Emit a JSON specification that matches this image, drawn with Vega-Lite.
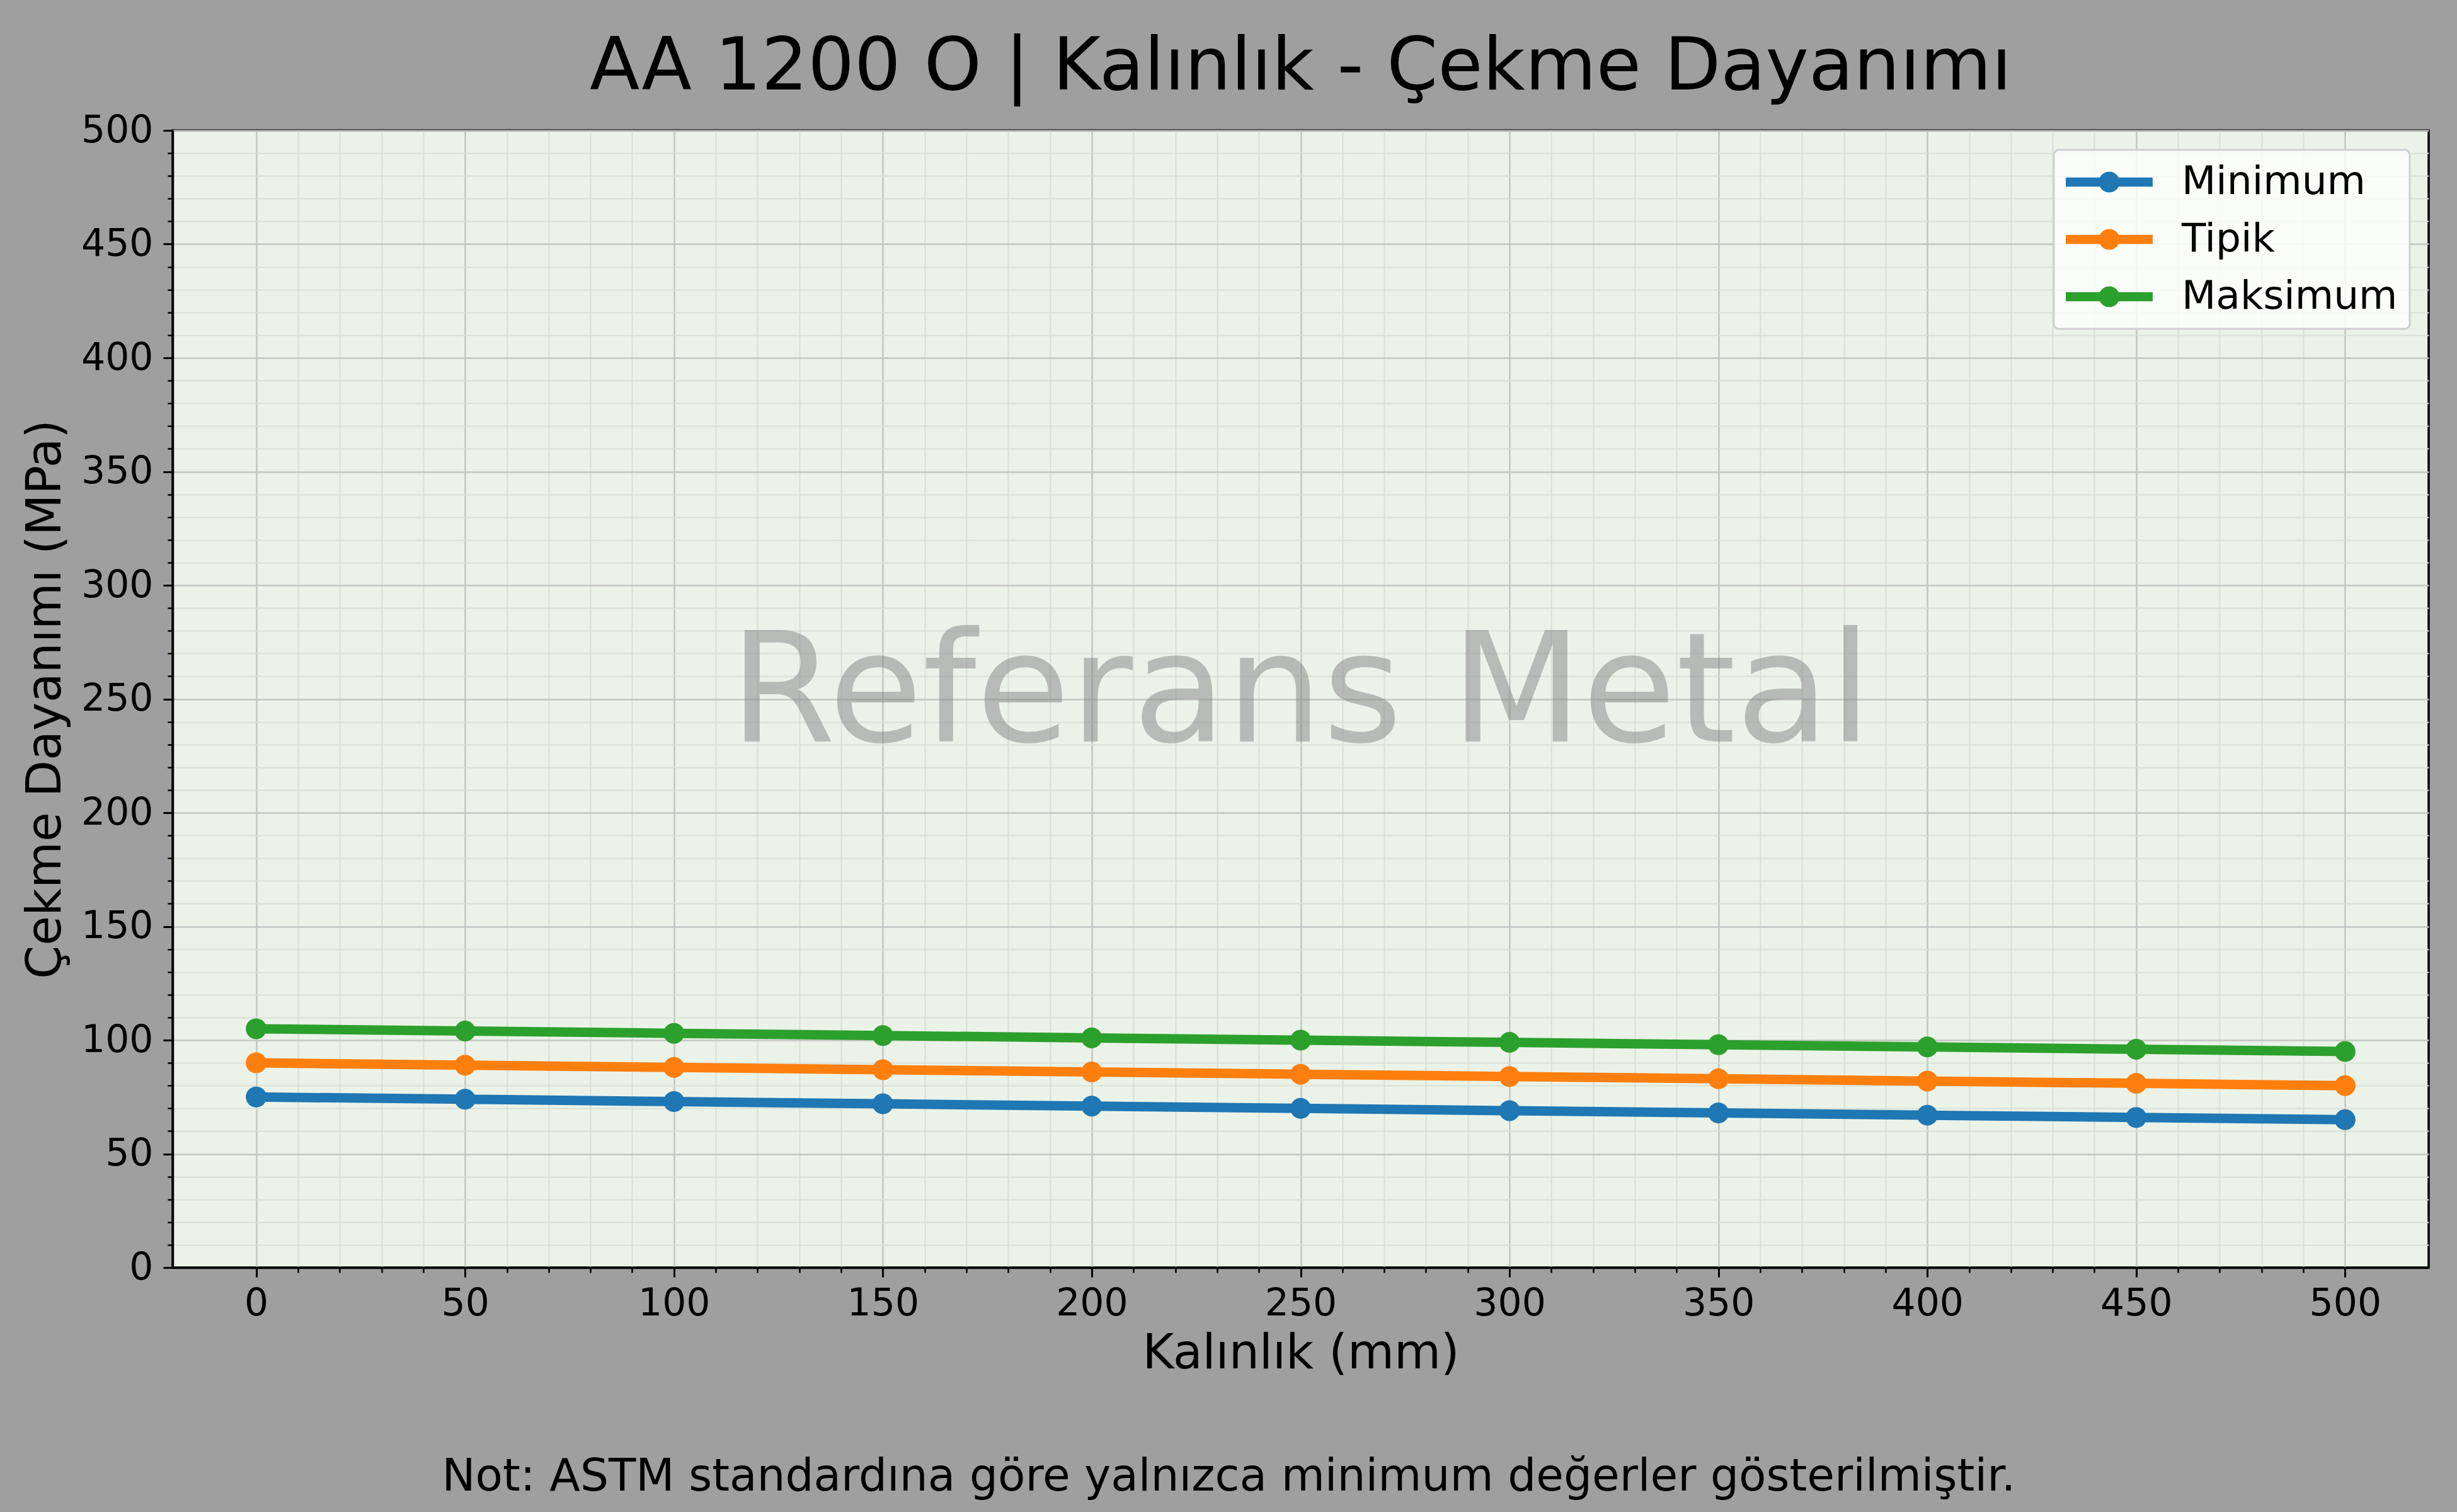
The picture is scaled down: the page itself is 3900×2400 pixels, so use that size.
{
  "$schema": "https://vega.github.io/schema/vega-lite/v6.json",
  "width": 3581,
  "height": 1805,
  "autosize": {"type": "none"},
  "padding": {"left": 274, "top": 207, "right": 45, "bottom": 388},
  "background": "#9f9f9f",
  "title": {
    "text": "AA 1200 O | Kalınlık - Çekme Dayanımı",
    "font": "DejaVu Sans",
    "fontSize": 116,
    "fontWeight": "normal",
    "color": "#000000",
    "anchor": "middle",
    "baseline": "alphabetic",
    "offset": -81
  },
  "config": {
    "font": "DejaVu Sans",
    "view": {"fill": "#ebf3e8", "stroke": "#000000", "strokeWidth": 3.5},
    "axis": {
      "labelFont": "DejaVu Sans",
      "labelFontSize": 60,
      "labelColor": "#000000",
      "titleFont": "DejaVu Sans",
      "titleFontSize": 76,
      "titleFontWeight": "normal",
      "titleColor": "#000000",
      "domainColor": "#000000",
      "domainWidth": 3.5,
      "tickColor": "#000000",
      "tickWidth": 3,
      "tickSize": 15,
      "gridColor": "#c3c6c1",
      "gridWidth": 2.5
    }
  },
  "datasets": {
    "seriler": [
      {"kalinlik": 0, "seri": "Minimum", "deger": 75},
      {"kalinlik": 50, "seri": "Minimum", "deger": 74},
      {"kalinlik": 100, "seri": "Minimum", "deger": 73},
      {"kalinlik": 150, "seri": "Minimum", "deger": 72},
      {"kalinlik": 200, "seri": "Minimum", "deger": 71},
      {"kalinlik": 250, "seri": "Minimum", "deger": 70},
      {"kalinlik": 300, "seri": "Minimum", "deger": 69},
      {"kalinlik": 350, "seri": "Minimum", "deger": 68},
      {"kalinlik": 400, "seri": "Minimum", "deger": 67},
      {"kalinlik": 450, "seri": "Minimum", "deger": 66},
      {"kalinlik": 500, "seri": "Minimum", "deger": 65},
      {"kalinlik": 0, "seri": "Tipik", "deger": 90},
      {"kalinlik": 50, "seri": "Tipik", "deger": 89},
      {"kalinlik": 100, "seri": "Tipik", "deger": 88},
      {"kalinlik": 150, "seri": "Tipik", "deger": 87},
      {"kalinlik": 200, "seri": "Tipik", "deger": 86},
      {"kalinlik": 250, "seri": "Tipik", "deger": 85},
      {"kalinlik": 300, "seri": "Tipik", "deger": 84},
      {"kalinlik": 350, "seri": "Tipik", "deger": 83},
      {"kalinlik": 400, "seri": "Tipik", "deger": 82},
      {"kalinlik": 450, "seri": "Tipik", "deger": 81},
      {"kalinlik": 500, "seri": "Tipik", "deger": 80},
      {"kalinlik": 0, "seri": "Maksimum", "deger": 105},
      {"kalinlik": 50, "seri": "Maksimum", "deger": 104},
      {"kalinlik": 100, "seri": "Maksimum", "deger": 103},
      {"kalinlik": 150, "seri": "Maksimum", "deger": 102},
      {"kalinlik": 200, "seri": "Maksimum", "deger": 101},
      {"kalinlik": 250, "seri": "Maksimum", "deger": 100},
      {"kalinlik": 300, "seri": "Maksimum", "deger": 99},
      {"kalinlik": 350, "seri": "Maksimum", "deger": 98},
      {"kalinlik": 400, "seri": "Maksimum", "deger": 97},
      {"kalinlik": 450, "seri": "Maksimum", "deger": 96},
      {"kalinlik": 500, "seri": "Maksimum", "deger": 95}
    ]
  },
  "layer": [
    {
      "data": {"name": "seriler"},
      "mark": {"type": "point", "opacity": 0},
      "encoding": {
        "x": {
          "field": "kalinlik",
          "type": "quantitative",
          "scale": {"domain": [-20, 520], "nice": false, "zero": false},
          "axis": {
            "orient": "bottom",
            "values": [10, 20, 30, 40, 60, 70, 80, 90, 110, 120, 130, 140, 160, 170, 180, 190, 210, 220, 230, 240, 260, 270, 280, 290, 310, 320, 330, 340, 360, 370, 380, 390, 410, 420, 430, 440, 460, 470, 480, 490],
            "labels": false,
            "domain": false,
            "tickSize": 8,
            "tickWidth": 2.5,
            "grid": true,
            "gridColor": "#d9e0d6",
            "gridWidth": 2,
            "title": null
          }
        },
        "y": {
          "field": "deger",
          "type": "quantitative",
          "scale": {"domain": [0, 500], "nice": false, "zero": false},
          "axis": {
            "orient": "left",
            "values": [10, 20, 30, 40, 60, 70, 80, 90, 110, 120, 130, 140, 160, 170, 180, 190, 210, 220, 230, 240, 260, 270, 280, 290, 310, 320, 330, 340, 360, 370, 380, 390, 410, 420, 430, 440, 460, 470, 480, 490],
            "labels": false,
            "domain": false,
            "tickSize": 8,
            "tickWidth": 2.5,
            "grid": true,
            "gridColor": "#d9e0d6",
            "gridWidth": 2,
            "title": null
          }
        }
      }
    },
    {
      "data": {"name": "seriler"},
      "mark": {"type": "line", "strokeWidth": 15},
      "encoding": {
        "x": {
          "field": "kalinlik",
          "type": "quantitative",
          "scale": {"domain": [-20, 520], "nice": false, "zero": false},
          "axis": {
            "orient": "bottom",
            "values": [0, 50, 100, 150, 200, 250, 300, 350, 400, 450, 500],
            "grid": true,
            "labelPadding": 13,
            "titlePadding": 12,
            "title": "Kalınlık (mm)"
          }
        },
        "y": {
          "field": "deger",
          "type": "quantitative",
          "scale": {"domain": [0, 500], "nice": false, "zero": false},
          "axis": {
            "orient": "left",
            "values": [0, 50, 100, 150, 200, 250, 300, 350, 400, 450, 500],
            "grid": true,
            "labelPadding": 16,
            "titlePadding": 17,
            "title": "Çekme Dayanımı (MPa)"
          }
        },
        "color": {
          "field": "seri",
          "type": "nominal",
          "scale": {"domain": ["Minimum", "Tipik", "Maksimum"], "range": ["#1f77b4", "#ff7f0e", "#2ca02c"]},
          "legend": {
            "title": null,
            "orient": "none",
            "legendX": 2986,
            "legendY": 31,
            "padding": 19,
            "fillColor": "rgba(255,255,255,0.8)",
            "strokeColor": "#cfcfcf",
            "cornerRadius": 8,
            "symbolType": "M-1,-0.23H3.31V0.23H-1ZM0.64,0A0.516,0.516 0 1,1 1.672,0A0.516,0.516 0 1,1 0.64,0Z",
            "symbolSize": 4096,
            "symbolStrokeWidth": 0,
            "labelFont": "DejaVu Sans",
            "labelFontSize": 63,
            "labelColor": "#000000",
            "labelOffset": 120,
            "labelLimit": 2000,
            "rowPadding": 27,
            "encode": {
              "legend": {"update": {"strokeWidth": {"value": 3}}},
              "symbols": {
                "update": {
                  "fill": {"scale": "color", "field": "value"},
                  "stroke": {"value": "transparent"},
                  "strokeWidth": {"value": 0},
                  "opacity": {"value": 1}
                }
              }
            }
          }
        }
      }
    },
    {
      "data": {"name": "seriler"},
      "mark": {"type": "point", "filled": true, "size": 1089, "opacity": 1},
      "encoding": {
        "x": {
          "field": "kalinlik",
          "type": "quantitative",
          "scale": {"domain": [-20, 520], "nice": false, "zero": false},
          "axis": null
        },
        "y": {
          "field": "deger",
          "type": "quantitative",
          "scale": {"domain": [0, 500], "nice": false, "zero": false},
          "axis": null
        },
        "color": {
          "field": "seri",
          "type": "nominal",
          "scale": {"domain": ["Minimum", "Tipik", "Maksimum"], "range": ["#1f77b4", "#ff7f0e", "#2ca02c"]}
        }
      }
    },
    {
      "data": {"values": [{"metin": "Referans Metal"}]},
      "mark": {"type": "text", "font": "DejaVu Sans", "fontSize": 242, "color": "#808080", "opacity": 0.48, "align": "center", "baseline": "alphabetic", "dy": 67},
      "encoding": {
        "text": {"field": "metin"},
        "x": {"datum": 250, "type": "quantitative", "scale": {"domain": [-20, 520], "nice": false, "zero": false}, "axis": null},
        "y": {"datum": 250, "type": "quantitative", "scale": {"domain": [0, 500], "nice": false, "zero": false}, "axis": null}
      }
    },
    {
      "data": {"values": [{"metin": "Not: ASTM standardına göre yalnızca minimum değerler gösterilmiştir."}]},
      "mark": {"type": "text", "font": "DejaVu Sans", "fontSize": 71, "color": "#000000", "align": "center", "baseline": "alphabetic"},
      "encoding": {
        "text": {"field": "metin"},
        "x": {"datum": 232.8, "type": "quantitative", "scale": {"domain": [-20, 520], "nice": false, "zero": false}, "axis": null},
        "y": {"datum": -98, "type": "quantitative", "scale": {"domain": [0, 500], "nice": false, "zero": false}, "axis": null}
      }
    }
  ],
  "resolve": {"axis": {"x": "independent", "y": "independent"}}
}
